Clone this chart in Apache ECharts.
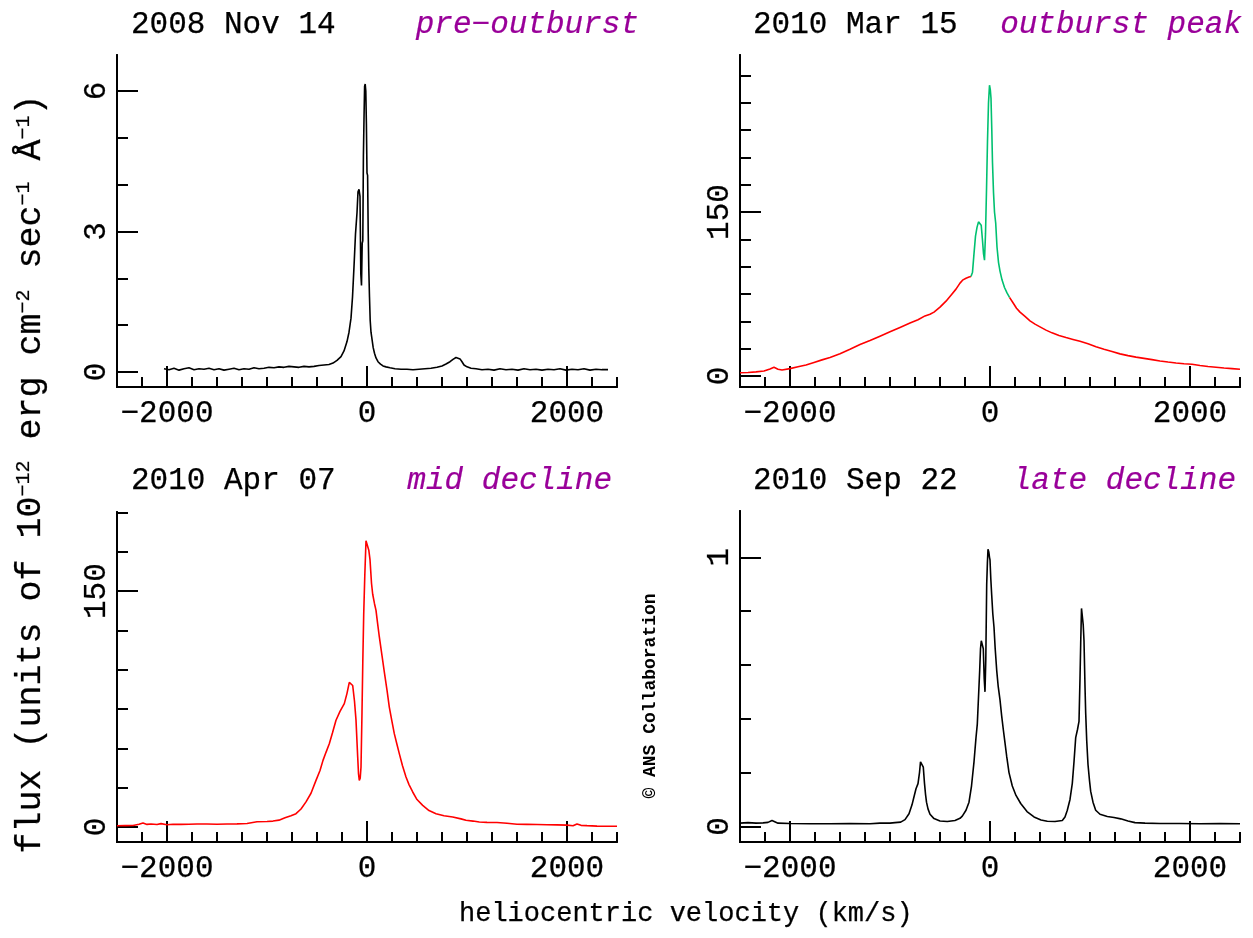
<!DOCTYPE html>
<html><head><meta charset="utf-8">
<script src="https://cdn.jsdelivr.net/npm/echarts@6/dist/echarts.min.js"></script>
<style>html,body{margin:0;padding:0;background:#fff}#c{width:1253px;height:938px}</style>
</head><body><div id="c"></div>
<script>
// ---------------- DATA ----------------
const dateLabels = ['2008 Nov 14', '2010 Mar 15', '2010 Apr 07', '2010 Sep 22'];
const phaseLabels = ['pre\u2212outburst', 'outburst peak', 'mid decline', 'late decline'];
const xMajorTicks = [-2000, 0, 2000];
const xMinorTicks = [-2500,-2250,-2000,-1750,-1500,-1250,-1000,-750,-500,-250,0,250,500,750,1000,1250,1500,1750,2000,2250,2500];
const yMajorNov = [0, 3, 6];
const yMinorNov = [0, 1, 2, 3, 4, 5, 6];
const yMajorMar = [0, 150];
const yMinorMar = [0, 25, 50, 75, 100, 125, 150, 175, 200, 225, 250, 275];
const yMajorApr = [0, 150];
const yMinorApr = [0, 25, 50, 75, 100, 125, 150, 175, 200];
const yMajorSep = [0, 1];
const yMinorSep = [0, 0.2, 0.4, 0.6, 0.8, 1.0];

// 2008 Nov 14 (pre-outburst)
const velNov = [-2030,-1980,-1930,-1880,-1830,-1780,-1730,-1680,-1630,-1580,-1530,-1480,-1430,-1380,-1330,-1280,-1230,-1180,-1130,-1080,-1030,-980,-930,-880,-830,-780,-730,-680,-630,-580,-530,-480,-430,-380,-340,-300,-260,-230,-200,-180,-160,-145,-130,-115,-100,-90,-80,-70,-62,-55,-48,-42,-36,-30,-24,-18,-12,-6,0,6,12,18,25,32,40,50,62,75,90,110,135,160,190,230,280,340,400,460,520,580,640,700,750,790,830,860,890,910,930,950,970,1000,1040,1090,1150,1210,1270,1330,1390,1450,1510,1570,1630,1690,1750,1810,1870,1930,1990,2050,2110,2170,2230,2290,2350,2410,2470];
const fluxNov = [0.07,0.05,0.08,0.04,0.07,0.09,0.05,0.07,0.06,0.08,0.05,0.07,0.04,0.06,0.08,0.05,0.07,0.06,0.09,0.07,0.08,0.10,0.09,0.11,0.10,0.12,0.11,0.10,0.12,0.11,0.12,0.14,0.15,0.16,0.19,0.25,0.33,0.45,0.65,0.85,1.15,1.6,2.25,2.95,3.4,3.85,3.9,3.75,2.1,1.85,2.75,2.8,4.6,5.4,6.1,6.15,6.0,5.3,4.25,4.2,3.0,2.2,1.6,1.1,0.85,0.7,0.52,0.4,0.3,0.22,0.17,0.13,0.11,0.09,0.07,0.06,0.06,0.05,0.06,0.07,0.08,0.10,0.13,0.17,0.22,0.27,0.31,0.33,0.28,0.22,0.15,0.11,0.08,0.07,0.05,0.06,0.04,0.07,0.05,0.06,0.04,0.07,0.05,0.06,0.04,0.06,0.05,0.07,0.04,0.06,0.05,0.07,0.04,0.06,0.05,0.05];

// 2010 Mar 15 (outburst peak); green part between the two limits
const velMar = [-2500,-2420,-2340,-2260,-2200,-2160,-2120,-2080,-2000,-1920,-1840,-1760,-1680,-1600,-1500,-1400,-1300,-1200,-1100,-1000,-900,-800,-720,-650,-600,-560,-500,-440,-390,-340,-300,-270,-240,-210,-190,-175,-160,-145,-130,-115,-100,-88,-75,-65,-55,-45,-35,-25,-15,-5,3,10,18,25,35,45,57,70,85,100,120,145,170,195,230,265,300,350,400,450,500,560,620,690,760,830,900,980,1060,1140,1220,1300,1380,1460,1540,1620,1700,1780,1860,1940,2020,2100,2180,2260,2340,2420,2500];
const fluxMar = [3.0,3.2,3.8,4.6,6.5,8.0,6.2,5.5,6.8,8.5,10.2,12.5,14.8,17.0,20.5,24.5,28.8,32.5,36.5,40.5,44.5,48.5,51.5,55.0,56.5,58.5,63,68.5,74,79.5,85,88,89.5,90.5,91,95,112,128,136,141,142,138,124,112,106,130,170,215,250,266,262,254,225,195,168,150,140,118,104,96,88,81,76,72,67,62,58.5,54.5,50.5,47.5,45.0,42.0,39.5,37.0,35.2,33.5,31.8,29.5,26.8,24.5,22.5,20.3,18.7,17.3,16.2,15.0,13.8,12.8,11.9,11.3,10.8,9.7,8.7,8.1,7.4,6.8,6.2];
const marGreenFrom = -190, marGreenTo = 195;

// 2010 Apr 07 (mid decline)
const velApr = [-2500,-2420,-2340,-2280,-2240,-2200,-2160,-2100,-2060,-2000,-1940,-1860,-1780,-1700,-1600,-1500,-1400,-1300,-1200,-1100,-1000,-940,-880,-820,-760,-710,-660,-610,-560,-510,-470,-440,-410,-377,-345,-310,-270,-227,-200,-177,-160,-143,-125,-110,-93,-85,-77,-68,-60,-50,-42,-33,-22,-10,0,7,18,30,45,57,75,90,105,123,150,173,200,223,250,273,300,323,355,390,420,457,500,557,620,690,770,857,940,990,1060,1123,1200,1300,1400,1500,1600,1700,1800,1900,2000,2060,2100,2140,2200,2300,2400,2500];
const fluxApr = [0.8,0.9,1.0,1.8,2.6,1.7,1.9,1.6,2.2,1.5,1.8,1.7,1.8,1.9,1.9,1.8,1.9,2.0,2.3,3.4,3.5,3.8,4.4,5.9,7.2,8.5,11.5,16,21.5,29.7,36,42.4,47.5,53,60,67.9,73.5,78.5,85,92,92.5,90,80,68,44.5,34,29.7,31,38,73,105,135,160,182,183,181,176,170,155,148,142,137.8,130,121,109,98.6,87,76.3,67,59.4,52.5,46.7,39,31.8,27,22.3,17.5,13.8,10.5,8.5,7.2,6.4,5.2,4.3,3.8,3.2,3.0,2.9,2.4,1.8,1.7,1.6,1.5,1.4,1.2,0.8,2.0,1.1,0.9,0.6,0.5,0.5];

// 2010 Sep 22 (late decline)
const velSep = [-2500,-2420,-2340,-2270,-2220,-2180,-2120,-2000,-1800,-1600,-1400,-1200,-1100,-1000,-950,-893,-850,-810,-780,-760,-740,-720,-705,-695,-687,-677,-667,-655,-645,-635,-620,-600,-560,-500,-427,-350,-300,-277,-240,-210,-185,-160,-140,-127,-115,-103,-95,-87,-77,-67,-58,-50,-42,-33,-26,-20,-12,-5,0,8,17,28,40,52,67,82,100,117,133,150,167,190,223,260,307,370,440,510,573,650,723,750,773,800,823,840,857,875,890,900,907,915,923,932,940,950,957,967,980,995,1007,1030,1057,1100,1173,1240,1307,1380,1450,1550,1700,1900,2100,2300,2500];
const fluxSep = [0.012,0.014,0.012,0.013,0.015,0.022,0.012,0.011,0.010,0.010,0.011,0.010,0.012,0.012,0.014,0.016,0.025,0.047,0.08,0.11,0.14,0.159,0.2,0.24,0.245,0.235,0.22,0.16,0.12,0.09,0.065,0.045,0.029,0.02,0.018,0.022,0.03,0.038,0.06,0.09,0.15,0.24,0.33,0.38,0.48,0.58,0.66,0.69,0.69,0.66,0.55,0.50,0.62,0.90,0.98,1.03,1.02,1.0,0.99,0.92,0.86,0.79,0.74,0.66,0.58,0.52,0.47,0.41,0.36,0.31,0.26,0.2,0.15,0.115,0.085,0.055,0.035,0.024,0.019,0.018,0.022,0.035,0.06,0.1,0.16,0.24,0.33,0.36,0.39,0.55,0.68,0.81,0.81,0.75,0.69,0.52,0.42,0.32,0.23,0.17,0.13,0.09,0.06,0.045,0.037,0.033,0.028,0.02,0.014,0.012,0.011,0.011,0.010,0.011,0.010];

const yTitle = 'flux (units of 10{s|\u221212} erg cm{s|\u22122} sec{s|\u22121} \u00c5{s|\u22121})';
const xTitle = 'heliocentric velocity (km/s)';
const credit = '\u00a9 ANS Collaboration';

// ---------------- BUILD ----------------
const FONT = "'Liberation Mono', 'DejaVu Sans Mono', monospace";
const pairs = (vs, fs) => vs.map((v, i) => [v, fs[i]]);
const marAll = pairs(velMar, fluxMar);
const marRed = [];
let gapAdded = false;
marAll.forEach(p => {
  if (p[0] <= marGreenFrom || p[0] >= marGreenTo) marRed.push(p);
  else if (!gapAdded) { marRed.push([p[0], null]); gapAdded = true; }
});
const marGreen = marAll.filter(p => p[0] >= marGreenFrom && p[0] <= marGreenTo);

const panels = [
  {grid: {left: 117, top: 55, width: 500, height: 332}, yMin: -0.32, yMax: 6.77, yMinor: yMinorNov, yMajor: yMajorNov,
   series: [{data: pairs(velNov, fluxNov), color: '#000000'}]},
  {grid: {left: 740, top: 55, width: 500, height: 332}, yMin: -10, yMax: 293.6, yMinor: yMinorMar, yMajor: yMajorMar,
   series: [{data: marRed, color: '#ff0000'}, {data: marGreen, color: '#00c070'}]},
  {grid: {left: 117, top: 512, width: 500, height: 330}, yMin: -9.5, yMax: 200.3, yMinor: yMinorApr, yMajor: yMajorApr,
   series: [{data: pairs(velApr, fluxApr), color: '#ff0000'}]},
  {grid: {left: 740, top: 511, width: 500, height: 331}, yMin: -0.058, yMax: 1.172, yMinor: yMinorSep, yMajor: yMajorSep,
   series: [{data: pairs(velSep, fluxSep), color: '#000000'}]}
];

const fmtNum = v => (v < 0 ? '\u2212' + Math.abs(v) : String(v));
const axisLine = {show: true, onZero: false, lineStyle: {color: '#000', width: 2}};
const labelText = {fontFamily: FONT, fontSize: 31, color: '#000', textBorderColor: '#000', textBorderWidth: 0.25};
const grids = [], xAxes = [], yAxes = [], series = [];
panels.forEach((p, gi) => {
  grids.push(Object.assign({containLabel: false}, p.grid));
  xAxes.push({type: 'value', gridIndex: gi, position: 'bottom', min: -2500, max: 2500,
    axisLine, splitLine: {show: false},
    axisTick: {show: true, inside: true, length: 10, customValues: xMinorTicks, lineStyle: {color: '#000', width: 2}},
    axisLabel: {show: false}});
  xAxes.push({type: 'value', gridIndex: gi, position: 'bottom', min: -2500, max: 2500,
    axisLine, splitLine: {show: false},
    axisTick: {show: true, inside: true, length: 21, customValues: xMajorTicks, lineStyle: {color: '#000', width: 2}},
    axisLabel: Object.assign({show: true, customValues: xMajorTicks, formatter: fmtNum, margin: 11}, labelText)});
  yAxes.push({type: 'value', gridIndex: gi, position: 'left', min: p.yMin, max: p.yMax,
    axisLine, splitLine: {show: false},
    axisTick: {show: true, inside: true, length: 11, customValues: p.yMinor, lineStyle: {color: '#000', width: 2}},
    axisLabel: {show: false}});
  yAxes.push({type: 'value', gridIndex: gi, position: 'left', min: p.yMin, max: p.yMax,
    axisLine, splitLine: {show: false},
    axisTick: {show: true, inside: true, length: 21, customValues: p.yMajor, lineStyle: {color: '#000', width: 2}},
    axisLabel: Object.assign({show: true, customValues: p.yMajor, rotate: 90, margin: 5, formatter: fmtNum}, labelText)});
  p.series.forEach(s => {
    series.push({type: 'line', xAxisIndex: gi * 2 + 1, yAxisIndex: gi * 2 + 1, data: s.data,
      showSymbol: false, symbol: 'none', connectNulls: false, animation: false, silent: true,
      lineStyle: {color: s.color, width: 1.6}, itemStyle: {color: s.color}});
  });
});

const titlePos = [
  {dx: 131, px: 639, y: 25},
  {dx: 753, px: 1242, y: 25},
  {dx: 131, px: 612, y: 481},
  {dx: 753, px: 1236, y: 481}
];
const graphic = [];
titlePos.forEach((t, i) => {
  graphic.push({type: 'text', x: t.dx, y: t.y, style: {text: dateLabels[i], fill: '#000', stroke: '#000', lineWidth: 0.25,
    font: "31px 'Liberation Mono', monospace", align: 'left', verticalAlign: 'middle'}});
  graphic.push({type: 'text', x: t.px, y: t.y, style: {text: phaseLabels[i], fill: '#990099', stroke: '#990099', lineWidth: 0.2,
    font: "italic 31px 'Liberation Mono', monospace", align: 'right', verticalAlign: 'middle'}});
});
graphic.push({type: 'text', x: 31, y: 474, rotation: Math.PI / 2, style: {text: yTitle, fill: '#000', stroke: '#000', lineWidth: 0.25,
  font: "35px 'Liberation Mono', monospace", align: 'center', verticalAlign: 'middle',
  rich: {s: {fontSize: 20, fontFamily: "'Liberation Mono', monospace", verticalAlign: 'top', fill: '#000', stroke: '#000', lineWidth: 0.2}}}});
graphic.push({type: 'text', x: 459, y: 914, style: {text: xTitle, fill: '#000', stroke: '#000', lineWidth: 0.25,
  font: "27px 'Liberation Mono', monospace", align: 'left', verticalAlign: 'middle'}});
graphic.push({type: 'text', x: 650, y: 696, rotation: Math.PI / 2, style: {text: credit, fill: '#000',
  font: "bold 18px 'Liberation Mono', monospace", align: 'center', verticalAlign: 'middle'}});

const chart = echarts.init(document.getElementById('c'), null, {renderer: 'canvas'});
chart.setOption({
  backgroundColor: '#ffffff',
  animation: false,
  grid: grids,
  xAxis: xAxes,
  yAxis: yAxes,
  series: series,
  graphic: graphic
});
</script>
</body></html>
